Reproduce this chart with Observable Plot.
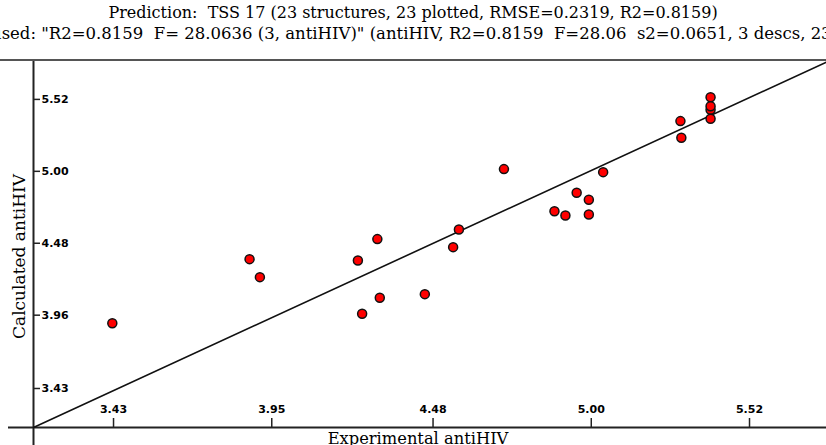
<!DOCTYPE html>
<html>
<head>
<meta charset="utf-8">
<script src="https://cdn.jsdelivr.net/npm/d3@7"></script>
<script src="https://cdn.jsdelivr.net/npm/@observablehq/plot@0.6"></script>
<style>
  body { margin: 0; background: #fff; }
  #head { position: relative; width: 826px; height: 59px; border-bottom: 2px solid #555; overflow: hidden;
          font-family: "DejaVu Serif", serif; font-size: 16px; color: #000; }
  #l1 { position: absolute; top: 3px; left: 0; width: 826px; text-align: center; white-space: nowrap; }
  #l2 { position: absolute; top: 24px; left: -9px; white-space: nowrap; font-size: 16.5px; }
  svg { display: block; }
</style>
</head>
<body>
<div id="head">
  <div id="l1">Prediction:&nbsp; TSS 17 (23 structures, 23 plotted, RMSE=0.2319, R2=0.8159)</div>
  <div id="l2">used: &quot;R2=0.8159&nbsp; F= 28.0636 (3, antiHIV)&quot; (antiHIV, R2=0.8159&nbsp; F=28.06&nbsp; s2=0.0651, 3 descs, 23 pts)</div>
</div>
<div id="chart"></div>
<script>
// Experimental (x) and calculated (y) antiHIV values
const experimental = [3.426, 3.877, 3.911, 4.297, 4.233, 4.565, 4.546, 4.305, 4.453, 4.247,
  4.713, 5.039, 4.952, 4.992, 4.879, 4.915, 4.992, 5.293, 5.296, 5.392, 5.392, 5.392, 5.392];
const calculated = [3.902, 4.365, 4.235, 4.510, 4.355, 4.580, 4.452, 4.086, 4.112, 3.970,
  5.016, 4.994, 4.845, 4.794, 4.712, 4.681, 4.688, 5.363, 5.243, 5.536, 5.445, 5.380, 5.470];
// Fitted line end points
const lineX = [3.167, 5.773];
const lineY = [3.148, 5.790];
// Axis ranges and tick labels
const xDomain = [3.167, 5.773];
const yDomain = [3.148, 5.794];
const xTicks = [3.43, 3.95, 4.48, 5.00, 5.52];
const yTicks = [3.43, 3.96, 4.48, 5.00, 5.52];
const xLabel = "Experimental antiHIV";
const yLabel = "Calculated antiHIV";

const points = experimental.map((x, i) => ({x, y: calculated[i]}));
const line = lineX.map((x, i) => ({x, y: lineY[i]}));

const W = 826, H = 384, mL = 33, mB = 18;
const tickFont = {fontFamily: "DejaVu Sans", fontWeight: "bold", fontSize: 11, fill: "#000"};
const labelFont = {fontFamily: "DejaVu Serif", fill: "#000"};

const chart = Plot.plot({
  width: W, height: H,
  marginLeft: mL, marginRight: 0, marginTop: 0, marginBottom: mB,
  x: {domain: xDomain, axis: null},
  y: {domain: yDomain, axis: null},
  style: {background: "#fff", overflow: "visible"},
  marks: [
    Plot.ruleX([xDomain[0]], {stroke: "#222", strokeWidth: 2, insetBottom: -mB}),
    Plot.ruleY([yDomain[0]], {stroke: "#222", strokeWidth: 2, insetLeft: -25}),
    Plot.tickX(xTicks, {x: d => d, stroke: "#222", strokeWidth: 1.5, insetTop: H - mB - 9}),
    Plot.tickY(yTicks, {y: d => d, stroke: "#222", strokeWidth: 1.5, insetRight: W - mL - 7}),
    Plot.text(xTicks, {x: d => d, text: d => d.toFixed(2), frameAnchor: "bottom", dy: -18, lineAnchor: "middle", ...tickFont}),
    Plot.text(yTicks, {y: d => d, text: d => d.toFixed(2), frameAnchor: "left", dx: 8, textAnchor: "start", ...tickFont}),
    Plot.line(line, {x: "x", y: "y", stroke: "#111", strokeWidth: 1.6}),
    Plot.dot(points, {x: "x", y: "y", r: 4.5, fill: "#f00", stroke: "#111", strokeWidth: 1.5}),
    Plot.text([xLabel], {text: d => d, frameAnchor: "bottom", dx: -12, dy: 11, lineAnchor: "middle", fontSize: 16.3, ...labelFont}),
    Plot.text([yLabel], {text: d => d, frameAnchor: "left", dx: -14, dy: 12, rotate: -90, textAnchor: "middle", lineAnchor: "middle", fontSize: 17, ...labelFont})
  ]
});
document.getElementById("chart").appendChild(chart);
</script>
</body>
</html>
